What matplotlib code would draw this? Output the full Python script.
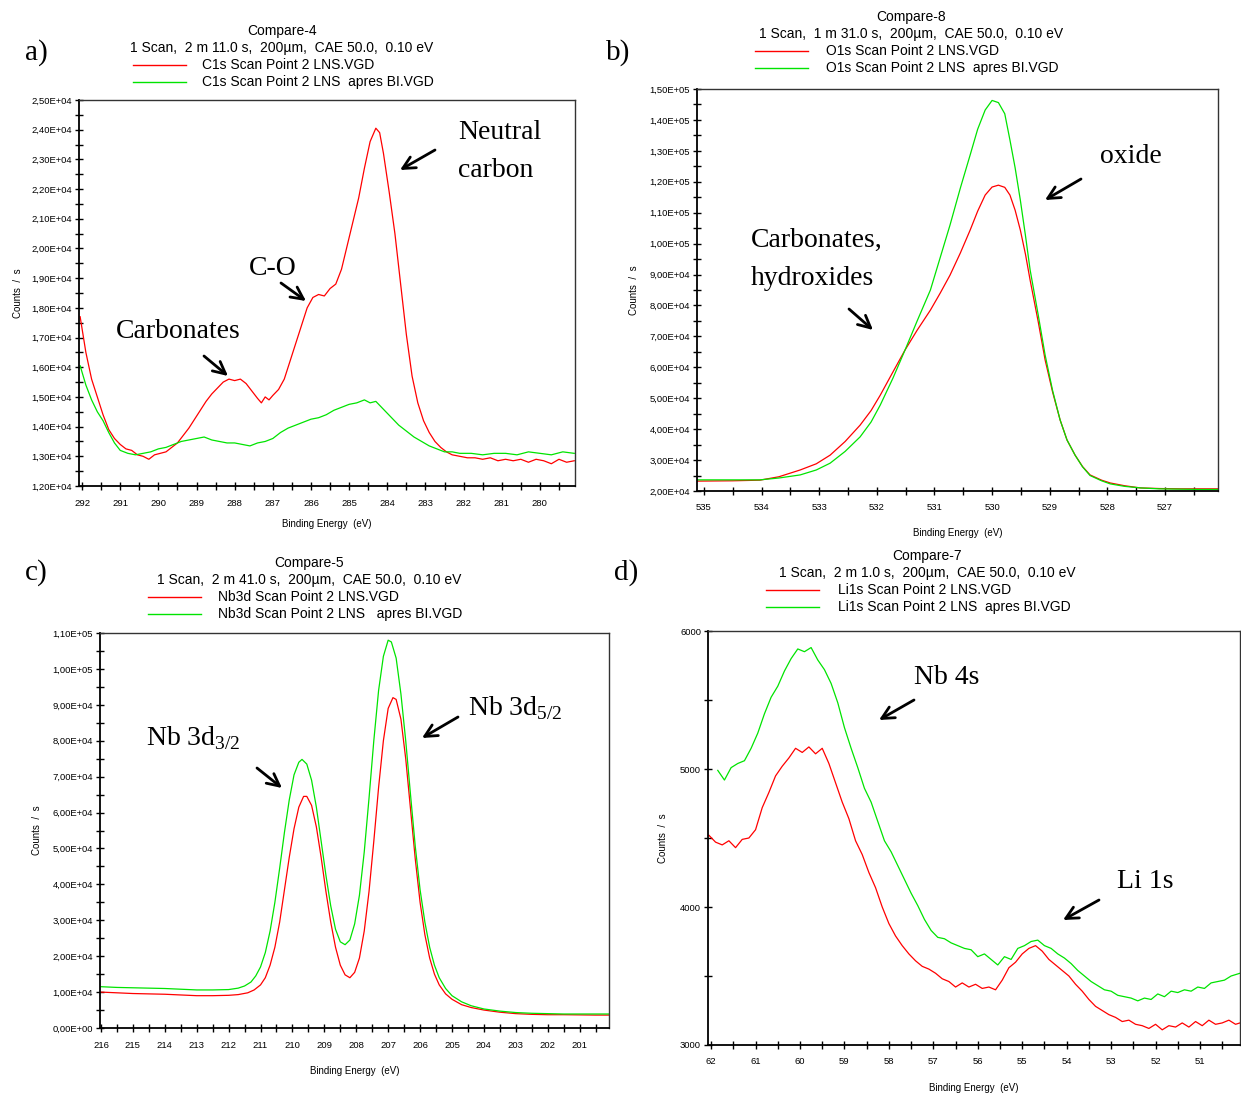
import matplotlib
matplotlib.use("Agg")
import matplotlib.pyplot as plt
from matplotlib.lines import Line2D
from matplotlib.patches import FancyArrowPatch
from matplotlib.ticker import MultipleLocator, FuncFormatter

W, H = 1241, 1095
RED = '#ff0000'
GREEN = '#00e400'

plt.rcParams['font.family'] = ['Liberation Sans', 'DejaVu Sans']
plt.rcParams['mathtext.fontset'] = 'custom'
plt.rcParams['mathtext.rm'] = 'Liberation Serif'

# ---- a) C1s ----
c1s_e_red = [292.05, 291.9, 291.75, 291.6, 291.45, 291.3, 291.15, 291.0, 290.85, 290.7, 290.55, 290.4,
             290.25, 290.1, 289.95, 289.8, 289.65, 289.5, 289.35, 289.2, 289.05, 288.9, 288.75, 288.6,
             288.45, 288.3, 288.15, 288.0, 287.85, 287.7, 287.55, 287.4, 287.3, 287.2, 287.1, 287.0,
             286.85, 286.7, 286.55, 286.4, 286.25, 286.1, 285.95, 285.8, 285.65, 285.5, 285.35, 285.2,
             285.05, 284.9, 284.75, 284.6, 284.45, 284.3, 284.2, 284.1, 283.95, 283.8, 283.65, 283.5,
             283.35, 283.2, 283.05, 282.9, 282.75, 282.6, 282.45, 282.3, 282.1, 281.9, 281.7, 281.5,
             281.3, 281.1, 280.9, 280.7, 280.5, 280.3, 280.1, 279.9, 279.7, 279.5, 279.3, 279.1]
c1s_red = [17700, 16500, 15600, 15000, 14400, 13900, 13600, 13400, 13250, 13200, 13050, 13000,
           12900, 13050, 13100, 13150, 13300, 13450, 13700, 13950, 14250, 14550, 14850, 15100,
           15300, 15500, 15600, 15550, 15600, 15450, 15200, 14950, 14800, 15000, 14900, 15050,
           15250, 15600, 16200, 16800, 17400, 18000, 18350, 18450, 18400, 18650, 18800, 19300,
           20100, 20900, 21700, 22700, 23600, 24050, 23900, 23200, 21900, 20500, 18800, 17100,
           15700, 14800, 14200, 13800, 13500, 13300, 13150, 13050, 13000, 12950, 12950, 12900,
           12950, 12850, 12900, 12850, 12900, 12800, 12900, 12850, 12750, 12900, 12800, 12850]
c1s_e_green = [292.05, 291.9, 291.75, 291.6, 291.45, 291.3, 291.15, 291.0, 290.8, 290.6, 290.4, 290.2,
               290.0, 289.8, 289.6, 289.4, 289.2, 289.0, 288.8, 288.6, 288.4, 288.2, 288.0, 287.8,
               287.6, 287.4, 287.2, 287.0, 286.8, 286.6, 286.4, 286.2, 286.0, 285.8, 285.6, 285.4,
               285.2, 285.0, 284.8, 284.6, 284.45, 284.3, 284.15, 284.0, 283.85, 283.7, 283.5, 283.3,
               283.1, 282.9, 282.7, 282.5, 282.3, 282.1, 281.8, 281.5, 281.2, 280.9, 280.6, 280.3,
               280.0, 279.7, 279.4, 279.1]
c1s_green = [16050, 15400, 14900, 14500, 14200, 13800, 13450, 13200, 13100, 13050, 13100, 13150,
             13250, 13300, 13400, 13500, 13550, 13600, 13650, 13550, 13500, 13450, 13450, 13400,
             13350, 13450, 13500, 13600, 13800, 13950, 14050, 14150, 14250, 14300, 14400, 14550,
             14650, 14750, 14800, 14900, 14800, 14850, 14650, 14450, 14250, 14050, 13850, 13650,
             13500, 13350, 13250, 13150, 13150, 13100, 13100, 13050, 13100, 13100, 13050, 13150,
             13100, 13050, 13150, 13100]

# ---- b) O1s ----
o1s_e = [535.12, 534.5, 534.03, 533.7, 533.33, 533.05, 532.81, 532.55, 532.29, 532.1, 531.94, 531.72,
         531.51, 531.3, 531.07, 530.9, 530.73, 530.55, 530.38, 530.25, 530.12, 530.0, 529.89, 529.78,
         529.69, 529.6, 529.51, 529.42, 529.34, 529.2, 529.08, 528.95, 528.82, 528.7, 528.56, 528.43,
         528.3, 528.1, 527.95, 527.7, 527.43, 527.1, 526.73, 526.4, 526.08]
o1s_red = [23200, 23300, 23500, 24600, 26800, 28800, 31600, 36000, 41300, 46000, 51000, 58500,
           65600, 72000, 78500, 84000, 89800, 97000, 104400, 110500, 115700, 118300, 118900, 118200,
           115700, 110800, 104400, 96500, 88200, 74800, 62400, 52000, 43000, 36500, 31600, 27900,
           25200, 23500, 22600, 21700, 21000, 20800, 20700, 20700, 20700]
o1s_green = [23600, 23600, 23600, 24200, 25200, 26800, 29000, 32800, 37500, 42300, 47800, 56500,
             65600, 75000, 85000, 95500, 106000, 118000, 128700, 137000, 143200, 146300, 145600, 142000,
             133500, 124500, 114100, 102500, 91500, 77000, 64000, 52500, 43000, 36500, 31600, 27800,
             25000, 23300, 22300, 21500, 21000, 20700, 20600, 20500, 20500]

# ---- c) Nb3d ----
nb3d_e_red = [216.0, 215.5, 215.0, 214.5, 214.0, 213.5, 213.0, 212.5, 212.0, 211.7, 211.4, 211.2,
              211.0, 210.85, 210.7, 210.55, 210.4, 210.25, 210.1, 209.95, 209.8, 209.65, 209.55, 209.4,
              209.25, 209.1, 208.95, 208.8, 208.65, 208.5, 208.35, 208.2, 208.05, 207.9, 207.75, 207.6,
              207.45, 207.3, 207.15, 207.0, 206.85, 206.75, 206.6, 206.45, 206.3, 206.15, 206.0, 205.85,
              205.7, 205.55, 205.4, 205.2, 205.0, 204.7, 204.4, 204.0, 203.5, 203.0, 202.5, 202.0,
              201.5, 201.0, 200.5, 200.1]
nb3d_red = [10000, 9800, 9600, 9500, 9400, 9200, 9000, 9000, 9100, 9300, 9800, 10600,
            12000, 14000, 17500, 22500, 29500, 38500, 47500, 55500, 61500, 64500, 64500, 62000,
            56000, 47500, 38000, 29500, 22500, 17500, 14800, 14000, 15500, 19500, 27000, 38000,
            52000, 67000, 80000, 89000, 92000, 91500, 86000, 75000, 61000, 47000, 35000, 26000,
            19500, 15000, 12000, 9500, 8000, 6500, 5700, 5000, 4400, 4000, 3800, 3700,
            3700, 3650, 3600, 3600]
nb3d_e_green = [216.0, 215.5, 215.0, 214.5, 214.0, 213.5, 213.0, 212.5, 212.0, 211.7, 211.5, 211.3,
                211.15, 211.0, 210.85, 210.7, 210.55, 210.4, 210.25, 210.1, 209.95, 209.8, 209.7, 209.55,
                209.4, 209.25, 209.1, 208.95, 208.8, 208.65, 208.5, 208.35, 208.2, 208.05, 207.9, 207.75,
                207.6, 207.45, 207.3, 207.15, 207.0, 206.9, 206.75, 206.6, 206.45, 206.3, 206.15, 206.0,
                205.85, 205.7, 205.55, 205.4, 205.2, 205.0, 204.7, 204.4, 204.0, 203.5, 203.0, 202.5,
                202.0, 201.5, 201.0, 200.5, 200.1]
nb3d_green = [11500, 11300, 11200, 11100, 11000, 10800, 10600, 10600, 10700, 11100, 11700, 12800,
              14500, 17000, 21000, 27000, 35000, 44500, 54500, 63500, 70500, 74000, 74800, 73500,
              69000, 61500, 52000, 42500, 34000, 27500, 24000, 23200, 24500, 29000, 37000, 49000,
              64000, 80000, 94000, 103500, 108000, 107500, 103000, 93000, 80000, 65000, 50500, 38500,
              29500, 22500, 17500, 14000, 11000, 9000, 7300, 6200, 5300, 4700, 4300, 4100,
              4000, 3900, 3900, 3900, 3900]

# ---- d) Li1s ----
li1s_e_red = [62.05, 61.9, 61.75, 61.6, 61.45, 61.3, 61.15, 61.0, 60.85, 60.7, 60.55, 60.4, 60.25, 60.1,
              59.95, 59.8, 59.65, 59.5, 59.35, 59.2, 59.05, 58.9, 58.75, 58.6, 58.45, 58.3, 58.15, 58.0,
              57.85, 57.7, 57.55, 57.4, 57.25, 57.1, 56.95, 56.8, 56.65, 56.5, 56.35, 56.2, 56.05, 55.9,
              55.75, 55.6, 55.45, 55.3, 55.15, 55.0, 54.85, 54.7, 54.55, 54.4, 54.25, 54.1, 53.95, 53.8,
              53.65, 53.5, 53.35, 53.2, 53.05, 52.9, 52.75, 52.6, 52.45, 52.3, 52.15, 52.0, 51.85, 51.7,
              51.55, 51.4, 51.25, 51.1, 50.95, 50.8, 50.65, 50.5, 50.35, 50.2, 50.1]
li1s_red = [4520, 4470, 4450, 4480, 4430, 4490, 4500, 4560, 4720, 4830, 4950, 5020, 5080, 5150,
            5120, 5160, 5110, 5150, 5040, 4900, 4760, 4640, 4480, 4380, 4250, 4140, 4000, 3880,
            3790, 3720, 3660, 3610, 3570, 3550, 3520, 3480, 3460, 3420, 3450, 3420, 3440, 3410,
            3420, 3400, 3470, 3560, 3600, 3660, 3700, 3720, 3680, 3620, 3580, 3540, 3500, 3440,
            3390, 3330, 3280, 3250, 3220, 3200, 3170, 3180, 3150, 3140, 3120, 3150, 3110, 3140,
            3130, 3160, 3130, 3170, 3140, 3180, 3150, 3160, 3180, 3150, 3160]
li1s_e_green = [61.85, 61.7, 61.55, 61.4, 61.25, 61.1, 60.95, 60.8, 60.65, 60.5, 60.35, 60.2, 60.05,
                59.9, 59.75, 59.6, 59.45, 59.3, 59.15, 59.0, 58.85, 58.7, 58.55, 58.4, 58.25, 58.1,
                57.95, 57.8, 57.65, 57.5, 57.35, 57.2, 57.05, 56.9, 56.75, 56.6, 56.45, 56.3, 56.15,
                56.0, 55.85, 55.7, 55.55, 55.4, 55.25, 55.1, 54.95, 54.8, 54.65, 54.5, 54.35, 54.2,
                54.05, 53.9, 53.75, 53.6, 53.45, 53.3, 53.15, 53.0, 52.85, 52.7, 52.55, 52.4, 52.25,
                52.1, 51.95, 51.8, 51.65, 51.5, 51.35, 51.2, 51.05, 50.9, 50.75, 50.6, 50.45, 50.3, 50.1]
li1s_green = [4990, 4920, 5010, 5040, 5060, 5150, 5260, 5400, 5520, 5600, 5710, 5800, 5870,
              5850, 5880, 5790, 5720, 5620, 5480, 5300, 5150, 5010, 4860, 4760, 4620, 4480,
              4400, 4300, 4200, 4100, 4010, 3910, 3830, 3780, 3770, 3740, 3720, 3700, 3690,
              3640, 3660, 3620, 3580, 3640, 3620, 3700, 3720, 3750, 3760, 3720, 3700, 3660,
              3630, 3590, 3540, 3500, 3460, 3430, 3400, 3390, 3360, 3350, 3340, 3320, 3340,
              3330, 3370, 3350, 3390, 3380, 3400, 3390, 3420, 3410, 3450, 3460, 3470, 3500, 3520]


def fx(x):
    return x / W


def fy(y):
    return 1 - y / H


sci = FuncFormatter(lambda v, p: f"{v:.2E}".replace(".", ","))
plain = FuncFormatter(lambda v, p: f"{v:.0f}")

fig = plt.figure(figsize=(W / 100, H / 100), dpi=100)


def panel(box, xlim, ylim, ymaj, ymin, fmt, series, header, xlab_y, ylab_x):
    l, t, r, b = box
    ax = fig.add_axes([fx(l), fy(b), fx(r - l), (b - t) / H])
    for e, v, c in series:
        ax.plot(e, v, color=c, lw=0.9)
    ax.set_xlim(*xlim)
    ax.set_ylim(*ylim)
    ax.xaxis.set_major_locator(MultipleLocator(1))
    ax.xaxis.set_minor_locator(MultipleLocator(0.5))
    ax.yaxis.set_major_locator(MultipleLocator(ymaj))
    ax.yaxis.set_minor_locator(MultipleLocator(ymin))
    ax.yaxis.set_major_formatter(fmt)
    ax.xaxis.set_major_formatter(plain)
    ax.tick_params(which='both', direction='inout', length=6, width=1, labelsize=6.8,
                   top=False, right=False)
    ax.tick_params(axis='x', pad=6)
    ax.tick_params(axis='y', pad=2)
    for s in ['left', 'bottom']:
        ax.spines[s].set_linewidth(1.3)
    for s in ['top', 'right']:
        ax.spines[s].set_linewidth(1.0)
        ax.spines[s].set_color('#333333')
    # header + legend
    title, scan, cx, ty, lx, tx, names = header
    fig.text(fx(cx), fy(ty), title, ha='center', va='center', fontsize=10)
    fig.text(fx(cx), fy(ty + 17), scan, ha='center', va='center', fontsize=10)
    for k, (name, c) in enumerate(zip(names, [RED, GREEN])):
        yy = ty + 34 + 17 * k
        fig.add_artist(Line2D([fx(lx), fx(lx + 53)], [fy(yy), fy(yy)], color=c, lw=1,
                              transform=fig.transFigure))
        fig.text(fx(tx), fy(yy), name, ha='left', va='center', fontsize=10)
    fig.text(fx((l + r) / 2), fy(xlab_y), 'Binding Energy  (eV)', ha='center', va='center', fontsize=7)
    fig.text(fx(ylab_x), fy((t + b) / 2), 'Counts  /  s', ha='center', va='center', rotation=90,
             fontsize=7)
    return ax


panel((79, 100, 575, 486), (292.08, 279.08), (12000, 25000), 1000, 500, sci,
      [(c1s_e_red, c1s_red, RED), (c1s_e_green, c1s_green, GREEN)],
      ('Compare-4', '1 Scan,  2 m 11.0 s,  200µm,  CAE 50.0,  0.10 eV', 282, 31, 133, 202,
       ['C1s Scan Point 2 LNS.VGD', 'C1s Scan Point 2 LNS  apres BI.VGD']), 524, 18)

panel((697, 89, 1218, 491), (535.12, 526.08), (20000, 150000), 10000, 5000, sci,
      [(o1s_e, o1s_red, RED), (o1s_e, o1s_green, GREEN)],
      ('Compare-8', '1 Scan,  1 m 31.0 s,  200µm,  CAE 50.0,  0.10 eV', 911, 17, 755, 826,
       ['O1s Scan Point 2 LNS.VGD', 'O1s Scan Point 2 LNS  apres BI.VGD']), 533, 634)

panel((100, 633, 609, 1028), (216.03, 200.08), (0, 110000), 10000, 5000, sci,
      [(nb3d_e_red, nb3d_red, RED), (nb3d_e_green, nb3d_green, GREEN)],
      ('Compare-5', '1 Scan,  2 m 41.0 s,  200µm,  CAE 50.0,  0.10 eV', 309, 563, 148, 218,
       ['Nb3d Scan Point 2 LNS.VGD', 'Nb3d Scan Point 2 LNS   apres BI.VGD']), 1071, 37)

panel((708, 631, 1240, 1045), (62.07, 50.1), (3000, 6000), 1000, 500, plain,
      [(li1s_e_red, li1s_red, RED), (li1s_e_green, li1s_green, GREEN)],
      ('Compare-7', '1 Scan,  2 m 1.0 s,  200µm,  CAE 50.0,  0.10 eV', 927, 556, 766, 838,
       ['Li1s Scan Point 2 LNS.VGD', 'Li1s Scan Point 2 LNS  apres BI.VGD']), 1088, 663)

# panel letters
for s, x, y in [('a)', 25, 60), ('b)', 606, 60), ('c)', 25, 580), ('d)', 614, 580)]:
    fig.text(fx(x), fy(y), s, family='Liberation Serif', fontsize=21, va='baseline')

# annotations
notes = [('Neutral', 458, 139), ('carbon', 458, 177), ('C-O', 249, 275), ('Carbonates', 116, 338),
         ('oxide', 1100, 163), ('Carbonates,', 751, 247), ('hydroxides', 751, 285),
         (r'Nb 3d$_{\mathrm{3/2}}$', 146, 745), (r'Nb 3d$_{\mathrm{5/2}}$', 468, 715),
         ('Nb 4s', 914, 684), ('Li 1s', 1117, 888)]
for s, x, y in notes:
    fig.text(fx(x), fy(y), s, family='Liberation Serif', fontsize=20, va='baseline')

arrows = [((435, 150), (400, 170)), ((281, 283), (306, 301)), ((204, 356), (228, 376)),
          ((1081, 179), (1045, 200)), ((849, 309), (873, 330)),
          ((257, 768), (282, 788)), ((458, 717), (422, 738)),
          ((914, 700), (879, 720)), ((1099, 900), (1063, 920))]
for (x0, y0), (x1, y1) in arrows:
    fig.add_artist(FancyArrowPatch((fx(x0), fy(y0)), (fx(x1), fy(y1)), transform=fig.transFigure,
                                   arrowstyle='->', lw=2, color='k', mutation_scale=22,
                                   shrinkA=0, shrinkB=0))

fig.savefig('out.png', dpi=100)
